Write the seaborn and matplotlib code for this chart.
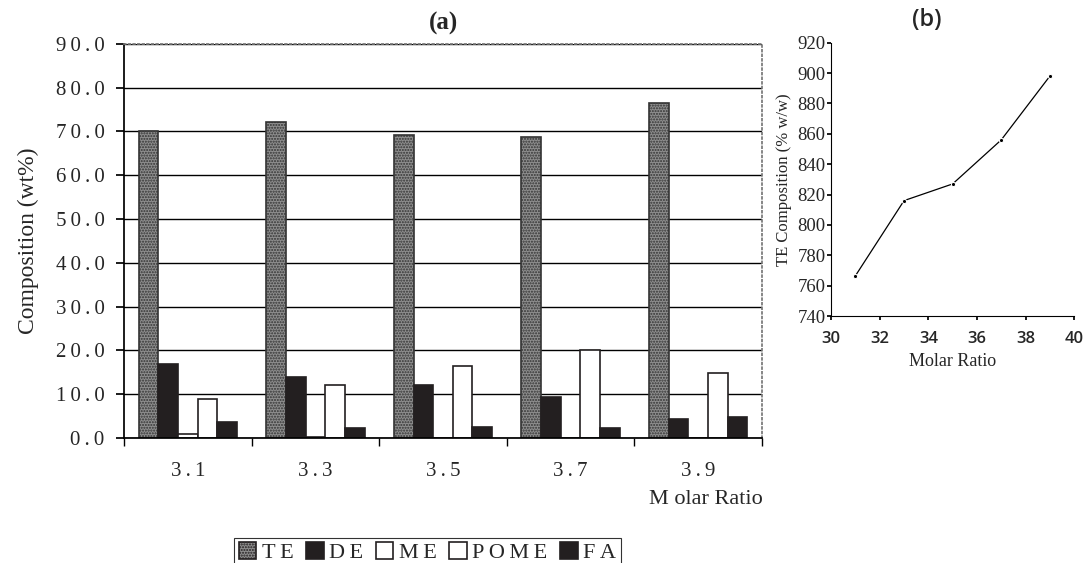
import numpy as np
import pandas as pd
import seaborn as sns
import matplotlib.pyplot as plt
from matplotlib.ticker import MultipleLocator, FixedLocator

# Panel (a) data
molar_ratio = ["3.1", "3.3", "3.5", "3.7", "3.9"]
components = ["TE", "DE", "ME", "POME", "FA"]
te = [70.0, 72.1, 69.2, 68.7, 76.6]
de = [16.8, 14.0, 12.0, 9.3, 4.3]
me = [0.9, 0.3, 0.0, 0.0, 0.0]
pome = [8.8, 12.0, 16.5, 20.0, 14.9]
fa = [3.7, 2.2, 2.5, 2.2, 4.8]
yticks_a = [0, 10, 20, 30, 40, 50, 60, 70, 80, 90]

# Panel (b) data
ratio_b = [31, 33, 35, 37, 39]
te_b = [766.5, 816, 827, 856, 898]

sns.set_theme(style="white")
plt.rcParams["font.family"] = ["Liberation Serif", "DejaVu Serif"]

SP = "\u2009"  # thin space, mimics the wide letter spacing of the scan


def spaced(s):
    return SP.join(s)


df = pd.DataFrame({
    "ratio": molar_ratio * 5,
    "comp": np.repeat(components, 5),
    "value": te + de + me + pome + fa,
})

fig = plt.figure(figsize=(10.85, 5.63), dpi=100)
ax = fig.add_axes([0.1143, 0.222, 0.588, 0.700])
axb = fig.add_axes([0.766, 0.4387, 0.224, 0.4854])

# ---- panel (a)
pal = {"TE": "#8e8e8e", "DE": "#231f20", "ME": "white", "POME": "white", "FA": "#231f20"}
sns.barplot(data=df, x="ratio", y="value", hue="comp", hue_order=components,
            palette=pal, width=0.77, saturation=1, edgecolor="#231f20",
            linewidth=1.2, ax=ax)
for cont, comp in zip(ax.containers, components):
    if comp == "TE":
        for p in cont:
            p.set_hatch("......")
            p.set_edgecolor("#333333")
for p, comp in zip(ax.get_legend_handles_labels()[0], components):
    if comp == "TE":
        p.set_hatch("......")

ax.set_ylim(0, 90)
ax.set_xlim(-0.5, 4.5)
ax.set_yticks(yticks_a)
ax.set_yticklabels([spaced(f"{v:.1f}") for v in yticks_a], fontsize=15)
ax.set_xticks(range(len(molar_ratio)))
ax.set_xticklabels([spaced(m) for m in molar_ratio], fontsize=15)
ax.grid(axis="y", color="black", linewidth=1)
ax.set_axisbelow(True)
for s in ["top", "right"]:
    ax.spines[s].set_linestyle(":")
    ax.spines[s].set_color("#777777")
ax.spines["left"].set_color("black")
ax.spines["bottom"].set_color("black")
ax.tick_params(axis="y", left=True, length=6, color="black", pad=8)
ax.xaxis.set_minor_locator(FixedLocator(np.arange(-0.5, 5, 1)))
ax.tick_params(axis="x", which="major", length=0, pad=17)
ax.tick_params(axis="x", which="minor", bottom=True, length=6, color="black")
ax.set_xlabel("")
ax.set_ylabel("Composition (wt%)", fontsize=17, labelpad=12)
ax.set_title("(a)", fontsize=18, pad=10, fontweight="bold")
fig.text(0.703, 0.113, "M olar Ratio", ha="right", va="center", fontsize=16)

leg = ax.legend(loc="center", bbox_to_anchor=(0.394, 0.018), bbox_transform=fig.transFigure,
                ncol=5, frameon=True, fancybox=False, fontsize=16, handlelength=0.8,
                handleheight=0.8, handletextpad=0.25, columnspacing=0.55, borderpad=0.2)
leg.get_frame().set_edgecolor("black")
leg.get_frame().set_linewidth(0.8)
for t in leg.get_texts():
    t.set_text(spaced(t.get_text()))

# ---- panel (b)
sns.lineplot(x=ratio_b, y=te_b, ax=axb, color="black", linewidth=0.9,
             marker="o", markersize=3)
axb.set_xlim(30, 40)
axb.set_ylim(740, 920)
axb.xaxis.set_major_locator(MultipleLocator(2))
axb.yaxis.set_major_locator(MultipleLocator(20))
for s in ["top", "right"]:
    axb.spines[s].set_visible(False)
for s in ["left", "bottom"]:
    axb.spines[s].set_color("black")
    axb.spines[s].set_linewidth(0.8)
axb.tick_params(axis="both", direction="out", length=3, color="black",
                left=True, bottom=True)
axb.tick_params(axis="y", labelsize=13.5, pad=1)
axb.tick_params(axis="x", labelsize=12, pad=8)
for lbl in axb.get_xticklabels():
    lbl.set_family(["Open Sans", "DejaVu Sans"])
    lbl.set_fontweight("semibold")
axb.set_xlabel("Molar Ratio", fontsize=13, labelpad=4)
axb.set_ylabel("TE Composition (% w/w)", fontsize=12, labelpad=4)
fig.text(0.854, 0.965, "(b)", ha="center", va="center", fontsize=17,
         family=["Open Sans", "DejaVu Sans"], fontweight="semibold")

fig.savefig("out.png", dpi=100)
